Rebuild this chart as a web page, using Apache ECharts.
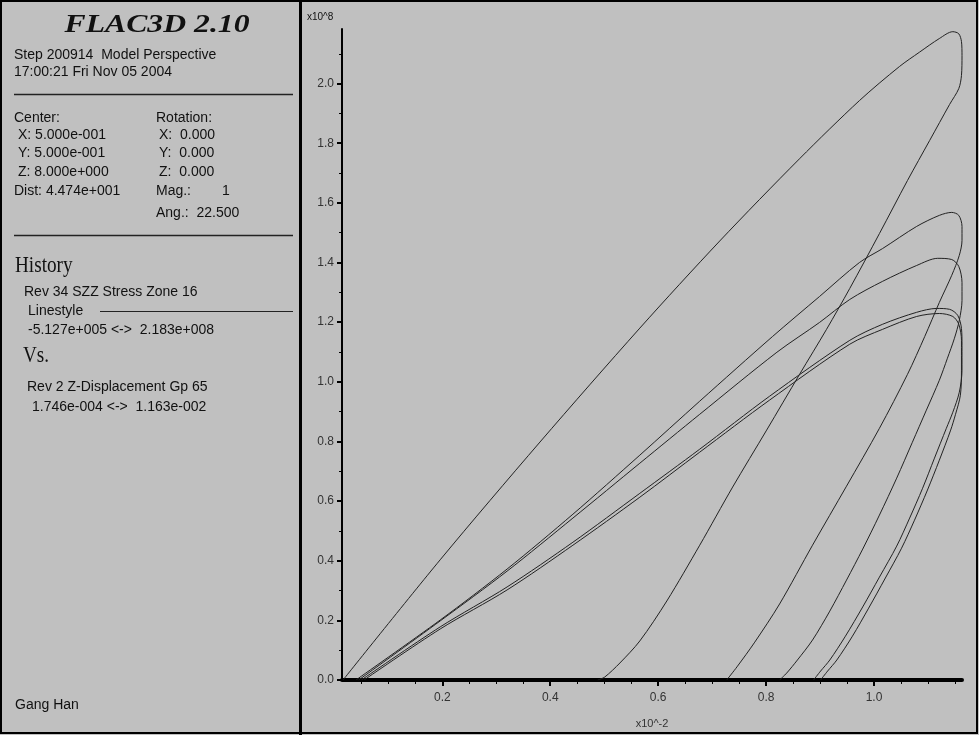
<!DOCTYPE html>
<html>
<head>
<meta charset="utf-8">
<script src="https://cdn.jsdelivr.net/npm/echarts@6/dist/echarts.min.js"></script>
<style>
html,body{margin:0;padding:0;background:#c0c0c0;}
#chart{width:979px;height:735px;}
</style>
</head>
<body>
<div id="chart"></div>
<script>
// ---- data (x in units of 10^-2, y in units of 10^8) ----
const loop1 = [[0.016,0.0],[0.196,0.403],[0.381,0.798],[0.566,1.180],[0.714,1.472],[0.862,1.748],[0.973,1.943],[1.047,2.057],[1.084,2.105],[1.121,2.151],[1.146,2.174],[1.157,2.167],[1.162,2.141],[1.163,2.094],[1.162,2.027],[1.157,1.983],[1.140,1.930],[1.103,1.809],[1.062,1.675],[1.010,1.497],[0.955,1.313],[0.912,1.176],[0.862,1.025],[0.801,0.838],[0.738,0.647],[0.677,0.452],[0.616,0.265],[0.566,0.131],[0.529,0.057],[0.501,0.010],[0.488,0.0]];
const loop2 = [[0.040,0.0],[0.196,0.201],[0.320,0.372],[0.442,0.556],[0.566,0.754],[0.677,0.935],[0.812,1.152],[0.899,1.286],[0.973,1.400],[1.016,1.447],[1.079,1.521],[1.121,1.558],[1.144,1.568],[1.157,1.558],[1.163,1.521],[1.163,1.474],[1.158,1.424],[1.144,1.357],[1.121,1.266],[1.094,1.152],[1.062,1.025],[1.010,0.844],[0.949,0.650],[0.886,0.452],[0.825,0.255],[0.779,0.127],[0.746,0.044],[0.727,0.0]];
const loop3 = [[0.045,0.0],[0.196,0.198],[0.320,0.365],[0.442,0.543],[0.566,0.727],[0.677,0.891],[0.820,1.099],[0.899,1.199],[0.955,1.276],[1.016,1.337],[1.079,1.390],[1.118,1.414],[1.144,1.410],[1.157,1.387],[1.163,1.333],[1.163,1.273],[1.158,1.206],[1.149,1.146],[1.136,1.079],[1.121,1.005],[1.097,0.905],[1.071,0.797],[1.042,0.677],[1.010,0.553],[0.979,0.439],[0.949,0.335],[0.918,0.231],[0.886,0.134],[0.858,0.067],[0.838,0.023],[0.825,0.0]];
const loop4 = [[0.050,0.0],[0.196,0.178],[0.320,0.312],[0.442,0.462],[0.566,0.626],[0.677,0.774],[0.806,0.951],[0.955,1.139],[1.016,1.193],[1.079,1.233],[1.116,1.246],[1.140,1.243],[1.155,1.223],[1.162,1.179],[1.163,1.122],[1.163,1.039],[1.158,0.965],[1.146,0.898],[1.134,0.844],[1.112,0.744],[1.090,0.643],[1.066,0.543],[1.042,0.449],[1.010,0.345],[0.979,0.245],[0.947,0.147],[0.918,0.067],[0.901,0.030],[0.888,0.0]];
const loop5 = [[0.055,0.0],[0.196,0.171],[0.320,0.302],[0.442,0.452],[0.566,0.613],[0.677,0.764],[0.806,0.938],[0.955,1.126],[1.016,1.176],[1.079,1.219],[1.121,1.229],[1.146,1.219],[1.157,1.193],[1.162,1.139],[1.162,1.039],[1.160,0.955],[1.151,0.891],[1.142,0.838],[1.121,0.737],[1.099,0.637],[1.075,0.536],[1.051,0.442],[1.021,0.342],[0.990,0.241],[0.960,0.147],[0.931,0.067],[0.914,0.030],[0.901,0.0]];

const xMin = 0.0141, xMax = 1.163;
const yMin = 0.0, yMax = 2.183;
const xTicks = [0.2, 0.4, 0.6, 0.8, 1.0];
const xMinorTicks = [0.05,0.1,0.15,0.25,0.3,0.35,0.45,0.5,0.55,0.65,0.7,0.75,0.85,0.9,0.95,1.05,1.1,1.15];
const yTicks = [0.0,0.2,0.4,0.6,0.8,1.0,1.2,1.4,1.6,1.8,2.0];
const yMinorTicks = [0.1,0.3,0.5,0.7,0.9,1.1,1.3,1.5,1.7,1.9,2.1];

const SANS = '"Liberation Sans", Arial, sans-serif';
const SERIF = '"Liberation Serif", "Times New Roman", serif';

function txt(text, x, y, font, extra) {
  return Object.assign({
    type: 'text', silent: true, x: x, y: y,
    style: { text: text, x: 0, y: 0, font: font || ('14px ' + SANS), fill: '#111', align: 'left', verticalAlign: 'middle' }
  }, extra || {});
}
function hline(x1, x2, y, w) {
  return { type: 'line', silent: true, shape: { x1: x1, y1: y, x2: x2, y2: y }, style: { stroke: '#222', lineWidth: w || 1 } };
}

const chart = echarts.init(document.getElementById('chart'), null, { renderer: 'canvas' });

const lineStyle = { color: '#222', width: 1 };
function mkSeries(name, data) {
  return { name: name, type: 'line', data: data, showSymbol: false, smooth: 0.3, lineStyle: lineStyle, xAxisIndex: 0, yAxisIndex: 0, animation: false };
}

const title = txt('FLAC3D 2.10', 157, 25, 'italic bold 26px ' + SERIF, { scaleX: 1.22 });
title.style.align = 'center';

chart.setOption({
  backgroundColor: '#c0c0c0',
  animation: false,
  grid: { left: 342, right: 17, top: 29, bottom: 55 },
  xAxis: [{
    type: 'value', min: xMin, max: xMax, position: 'bottom',
    name: 'x10^-2', nameLocation: 'middle', nameGap: 38,
    nameTextStyle: { fontFamily: SANS, fontSize: 11, color: '#333' },
    axisLine: { show: true, onZero: false, lineStyle: { color: '#000', width: 4 } },
    axisTick: { show: true, inside: false, length: 6, customValues: xTicks, lineStyle: { color: '#000', width: 2 } },
    axisLabel: { show: true, customValues: xTicks, margin: 12, fontFamily: SANS, fontSize: 12, color: '#333', formatter: v => v.toFixed(1) },
    splitLine: { show: false }
  }, {
    type: 'value', min: xMin, max: xMax, position: 'bottom',
    axisLine: { show: false },
    axisTick: { show: true, inside: false, length: 4, customValues: xMinorTicks, lineStyle: { color: '#000', width: 1 } },
    axisLabel: { show: false },
    splitLine: { show: false }
  }],
  yAxis: [{
    type: 'value', min: yMin, max: yMax, position: 'left',
    axisLine: { show: true, onZero: false, lineStyle: { color: '#000', width: 2 } },
    axisTick: { show: true, inside: false, length: 5, customValues: yTicks, lineStyle: { color: '#000', width: 2 } },
    axisLabel: { show: true, customValues: yTicks, margin: 8, fontFamily: SANS, fontSize: 12, color: '#333', formatter: v => v.toFixed(1) },
    splitLine: { show: false }
  }, {
    type: 'value', min: yMin, max: yMax, position: 'left',
    axisLine: { show: false },
    axisTick: { show: true, inside: false, length: 3, customValues: yMinorTicks, lineStyle: { color: '#000', width: 1 } },
    axisLabel: { show: false },
    splitLine: { show: false }
  }],
  series: [
    mkSeries('Cycle 1', loop1),
    mkSeries('Cycle 2', loop2),
    mkSeries('Cycle 3', loop3),
    mkSeries('Cycle 4', loop4),
    mkSeries('Cycle 5', loop5)
  ],
  graphic: [
    { type: 'rect', silent: true, shape: { x: 1, y: 1, width: 976, height: 732 }, style: { fill: null, stroke: '#000', lineWidth: 2 } },
    { type: 'line', silent: true, shape: { x1: 300.5, y1: 0, x2: 300.5, y2: 735 }, style: { stroke: '#000', lineWidth: 3 } },
    title,
    txt('Step 200914  Model Perspective', 14, 55),
    txt('17:00:21 Fri Nov 05 2004', 14, 72),
    hline(14, 293, 94.5, 1.5),
    txt('Center:', 14, 118),
    txt('X: 5.000e-001', 18, 135),
    txt('Y: 5.000e-001', 18, 153),
    txt('Z: 8.000e+000', 18, 172),
    txt('Dist: 4.474e+001', 14, 191),
    txt('Rotation:', 156, 118),
    txt('X:  0.000', 159, 135),
    txt('Y:  0.000', 159, 153),
    txt('Z:  0.000', 159, 172),
    txt('Mag.:', 156, 191),
    txt('1', 222, 191),
    txt('Ang.:  22.500', 156, 213),
    hline(14, 293, 235.5, 1.5),
    txt('History', 15, 266, '24px ' + SERIF, { scaleX: 0.8 }),
    txt('Rev 34 SZZ Stress Zone 16', 24, 292),
    txt('Linestyle', 28, 311),
    hline(100, 293, 311.5, 1),
    txt('-5.127e+005 <->  2.183e+008', 28, 330),
    txt('Vs.', 23, 356, '24px ' + SERIF, { scaleX: 0.8 }),
    txt('Rev 2 Z-Displacement Gp 65', 27, 387),
    txt('1.746e-004 <->  1.163e-002', 32, 407),
    txt('Gang Han', 15, 705),
    txt('x10^8', 307, 17, '10px ' + SANS)
  ]
});
</script>
</body>
</html>
